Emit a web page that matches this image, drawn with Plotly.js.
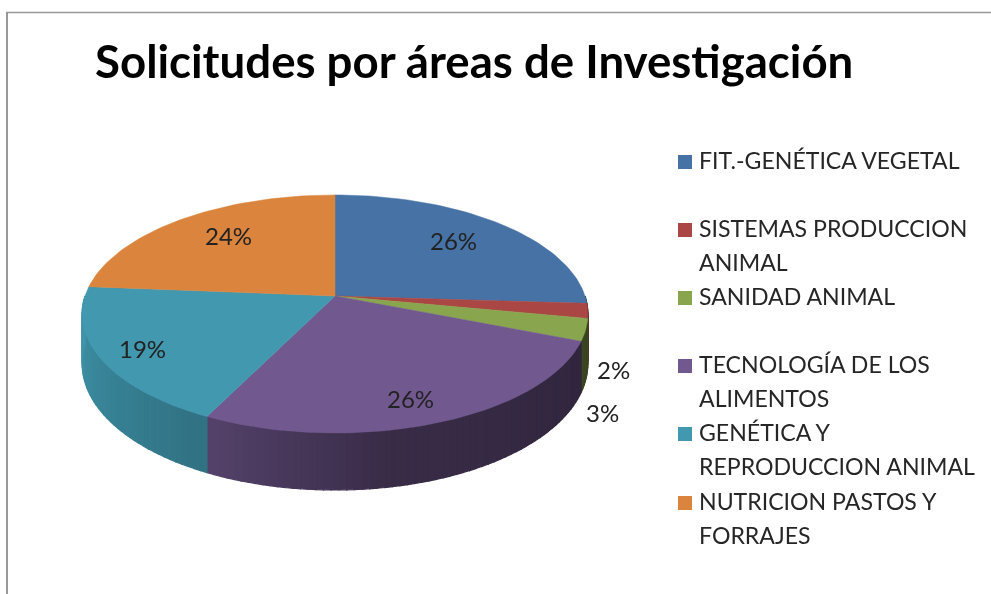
<!DOCTYPE html>
<html><head><meta charset="utf-8">
<script src="https://cdn.plot.ly/plotly-3.0.1.min.js"></script>
<style>html,body{margin:0;padding:0;background:#fff}#c{width:991px;height:594px;filter:blur(0.5px)}</style>
</head><body><div id="c"></div>
<script>
const categories=["FIT.-GENÉTICA VEGETAL","SISTEMAS PRODUCCION<br>ANIMAL","SANIDAD ANIMAL","TECNOLOGÍA DE LOS<br>ALIMENTOS","GENÉTICA Y<br>REPRODUCCION ANIMAL","NUTRICION PASTOS Y<br>FORRAJES"];
const values=[26,2,3,26.3,19,23.7];
const percentLabels=["26%","2%","3%","26%","19%","24%"];
const topColors=["#4672a5","#aa4643","#89a54e","#71588f","#4198af","#db843d"];
const chartTitle="Solicitudes por áreas de Investigación";

// projected disc geometry
const CX=335,CY=296,A=250,B=116.3,K=0.151,D=48.4;
function proj(deg,drop){
  const t=deg*Math.PI/180,u=Math.sin(t),v=-Math.cos(t),w=1-K*v;
  return [CX+A*u/w, CY+B*v/w+(drop?D/w:0)];
}
const total=values.reduce((a,b)=>a+b,0);
const traces=[];
function addPoly(xs,ys,color,name,lw){
  traces.push({type:"scatter",mode:"lines",x:xs,y:ys,fill:"toself",fillcolor:color,
    line:{color:color,width:lw},hoverinfo:"name",name:name,showlegend:false});
}
function mix(c,f){
  const n=parseInt(c.slice(1),16);
  const r=(n>>16)&255,g=(n>>8)&255,b=n&255;
  return `rgb(${Math.round(r*f)},${Math.round(g*f)},${Math.round(b*f)})`;
}
// wall shading by angle on the rim
const shadeStops=[[90,0.40],[170,0.50],[205,0.74],[270,0.98]];
function shadeAt(d){
  for(let i=1;i<shadeStops.length;i++){
    const [a,sa]=shadeStops[i-1],[b,sb]=shadeStops[i];
    if(d<=b)return sa+(sb-sa)*(d-a)/(b-a);
  }
  return shadeStops[shadeStops.length-1][1];
}
let acc=0;const spans=values.map(v=>{const s=acc;acc+=v/total*360;return [s,acc];});
spans.forEach(([s,e],i)=>{
  const a=Math.max(s,90),b=Math.min(e,270);
  if(b<=a)return;
  const n=Math.max(2,Math.round((b-a)/1.5));
  for(let j=0;j<n;j++){
    const d0=a+(b-a)*j/n,d1=a+(b-a)*(j+1)/n,mid=(d0+d1)/2;
    const p0=proj(d0,false),p1=proj(d1,false),p2=proj(d1,true),p3=proj(d0,true);
    addPoly([p0[0],p1[0],p2[0],p3[0],p0[0]],[p0[1],p1[1],p2[1],p3[1],p0[1]],mix(topColors[i],shadeAt(mid)),categories[i].replace("<br>"," "),1.2);
  }
});
// top faces
spans.forEach(([s,e],i)=>{
  const xs=[CX],ys=[CY];
  const n=Math.ceil((e-s)/1.5);
  for(let k=0;k<=n;k++){const p=proj(s+(e-s)*k/n,false);xs.push(p[0]);ys.push(p[1]);}
  xs.push(CX);ys.push(CY);
  addPoly(xs,ys,topColors[i],categories[i].replace("<br>"," "),0.5);
});
const labelPos=[[453,240],[613,369],[602,412],[410,398],[142,348],[228,235]];
const legendY=[161,229,297,365,433,502];
const LINE=33.5;
const annotations=[];
percentLabels.forEach((t,i)=>annotations.push({x:labelPos[i][0],y:labelPos[i][1],xref:"x",yref:"y",text:t,showarrow:false,
  font:{family:"Lato",size:24,color:"#222"}}));
const shapes=[
 {type:"line",xref:"paper",yref:"paper",x0:7/991,x1:7/991,y0:0,y1:1-12/594,line:{color:"#999",width:2}},
 {type:"line",xref:"paper",yref:"paper",x0:6/991,x1:1,y0:1-12.5/594,y1:1-12.5/594,line:{color:"#999",width:1.5}}
];
categories.forEach((t,i)=>{
  t.split("<br>").forEach((line,k)=>{
    annotations.push({x:697,y:legendY[i]-1+k*LINE,xref:"x",yref:"y",xanchor:"left",yanchor:"middle",align:"left",text:line,showarrow:false,
      font:{family:"Lato",size:23.1,color:"#262626"}});
  });
  shapes.push({type:"rect",xref:"x",yref:"y",x0:678,x1:692,y0:legendY[i]-6,y1:legendY[i]+8,fillcolor:topColors[i],line:{width:0}});
});
annotations.push({x:93,y:60,xref:"x",yref:"y",xanchor:"left",text:"<b>"+chartTitle+"</b>",showarrow:false,
  font:{family:"Lato",size:45.6,color:"#000"}});
Plotly.newPlot("c",traces,{
  width:991,height:594,margin:{l:0,r:0,t:0,b:0},paper_bgcolor:"#fff",plot_bgcolor:"#fff",showlegend:false,
  xaxis:{range:[0,991],visible:false,fixedrange:true},
  yaxis:{range:[594,0],visible:false,fixedrange:true},
  annotations,shapes
},{displayModeBar:false,staticPlot:true});
</script></body></html>
